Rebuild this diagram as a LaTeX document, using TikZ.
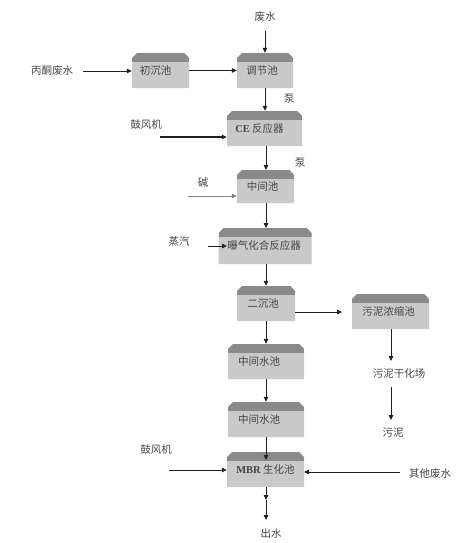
\documentclass[tikz,border=0pt]{standalone}
\usepackage{fontspec}
\setmainfont{Liberation Serif}
\newfontfamily\cjk{Noto Sans CJK SC}
\usetikzlibrary{arrows.meta,shapes.misc}
\definecolor{boxbody}{HTML}{C9C9C9}
\definecolor{boxtop}{HTML}{8A8A8A}
\definecolor{txt}{HTML}{454545}
\definecolor{linec}{HTML}{202020}
\newcommand\lbl[2][6pt]{\raisebox{-4.5pt}{#2\hspace*{#1}}}
\begin{document}
\begin{tikzpicture}[x=1pt,y=-1pt,
  tank/.style={chamfered rectangle, chamfered rectangle corners={north west,north east},
    chamfered rectangle xsep=2.5pt, chamfered rectangle ysep=2.5pt,
    fill=boxbody, draw=none, inner sep=0pt,
    font=\cjk\fontsize{10.5}{12}\selectfont, text=txt,
    path picture={\fill[boxtop] (path picture bounding box.north west) rectangle ([yshift=-9pt]path picture bounding box.north east);}},
  lab/.style={font=\cjk\fontsize{10.5}{12}\selectfont, text=txt, inner sep=1pt},
  flow/.style={draw=linec, line width=0.8pt, -{Triangle[length=5pt,width=4.5pt]}},
  thin flow/.style={flow, line width=0.5pt, draw=gray}]
\useasboundingbox (0,0) rectangle (459,543);

% tanks
\node[tank, minimum width=57pt, minimum height=35pt] (chuchen) at (160.5,70.5) {\lbl[10pt]{初沉池}};
\node[tank, minimum width=56pt, minimum height=35pt] (tiaojie) at (265,70.5) {\lbl{调节池}};
\node[tank, minimum width=75pt, minimum height=35pt] (ce) at (264.5,128.5) {\lbl[10pt]{{\rmfamily\bfseries CE} 反应器}};
\node[tank, minimum width=57pt, minimum height=33pt] (zj) at (265.5,186.5) {\lbl{中间池}};
\node[tank, minimum width=93pt, minimum height=36pt] (puqi) at (265,246) {\lbl[2pt]{曝气化合反应器}};
\node[tank, minimum width=58pt, minimum height=35pt] (erchen) at (266,303.5) {\lbl{二沉池}};
\node[tank, minimum width=77pt, minimum height=35pt] (wuni) at (390.5,311.5) {\lbl[4pt]{污泥浓缩池}};
\node[tank, minimum width=76pt, minimum height=35pt] (zs1) at (266,361.5) {\lbl[14pt]{中间水池}};
\node[tank, minimum width=76pt, minimum height=35pt] (zs2) at (266,419.5) {\lbl[14pt]{中间水池}};
\node[tank, minimum width=77pt, minimum height=35pt] (mbr) at (265.5,469.5) {\lbl[0pt]{{\rmfamily\bfseries MBR} 生化池}};

% labels
\node[lab] (fs) at (265,17) {废水};
\node[lab] (bt) at (52,71) {丙酮废水};
\node[lab] (beng1) at (289,99) {泵};
\node[lab] (gf1) at (146,125) {鼓风机};
\node[lab] (beng2) at (300,163) {泵};
\node[lab] (jian) at (203,183) {碱};
\node[lab] (zq) at (179,242) {蒸汽};
\node[lab] (gh) at (399,374) {污泥干化场};
\node[lab] (wn) at (393,433) {污泥};
\node[lab] (gf2) at (156,450) {鼓风机};
\node[lab] (qt) at (430,474) {其他废水};
\node[lab] (cs) at (271,534) {出水};

% free ends
\coordinate (fsA) at (265,31);
\coordinate (btA) at (83,71);
\coordinate (gf1A) at (160,137);
\coordinate (jianA) at (188,196);
\coordinate (zqA) at (208,246);
\coordinate (zqB) at (227,246);
\coordinate (wnA) at (342,312);
\coordinate (mbrIn) at (266,460);
\coordinate (gf2A) at (169,470);
\coordinate (qtA) at (400,472);
\coordinate (mbrE) at (304,472);
\coordinate (csM) at (266,500);
\coordinate (csB) at (266,520);

% connectors
\draw[flow] (fsA) -- (fsA |- tiaojie.north);
\draw[flow] (btA) -- (btA -| chuchen.west);
\draw[flow] (chuchen.east) -- (tiaojie.west);
\draw[flow] (tiaojie.south) -- (tiaojie.south |- ce.north);
\draw[flow, line width=1.4pt] (gf1A) -- (gf1A -| ce.west);
\draw[flow] (266,146) -- (266,170);
\draw[thin flow] (jianA) -- (jianA -| zj.west);
\draw[flow] (zj.south -| 266,0) -- (266,228);
\draw[flow] (zqA) -- (zqB);
\draw[flow] (puqi.south -| 266,0) -- (erchen.north);
\draw[flow] (erchen.east |- wnA) -- (wnA);
\draw[flow] (391,329) -- (391,361);
\draw[flow] (391,387) -- (391,420);
\draw[flow] (erchen.south) -- (zs1.north);
\draw[flow] (zs1.south) -- (zs2.north);
\draw[flow] (zs2.south) -- (mbrIn);
\draw[flow] (gf2A) -- (gf2A -| mbr.west);
\draw[flow] (qtA) -- (mbrE);
\draw[flow] (mbr.south -| csM) -- (csM);
\draw[flow] (csM) -- (csB);
\end{tikzpicture}
\end{document}
